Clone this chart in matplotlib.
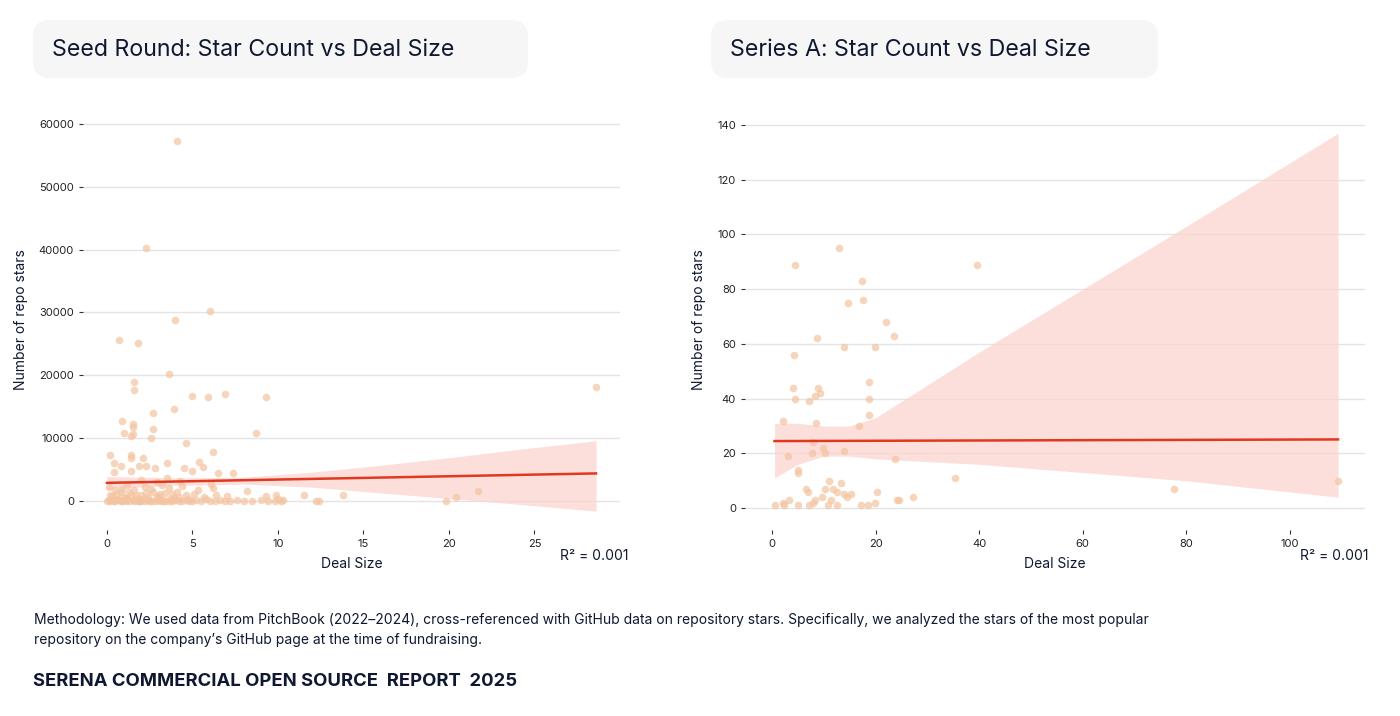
import matplotlib
matplotlib.use("Agg")
import matplotlib.pyplot as plt
from matplotlib.patches import FancyBboxPatch

plt.rcParams['font.family'] = ['Inter', 'DejaVu Sans']

# ---------- Seed round data ----------
seed_x = [4.1,2.3,6.0,4.0,0.7,1.8,3.6,1.6,1.6,5.0,5.9,6.9,9.3,28.6,3.9,2.7,0.9,1.5,1.5,2.7,1.0,1.5,1.4,2.6,8.7,4.6,
          1.4,0.2,1.4,2.1,6.2,0.4,3.5,5.4,0.8,0.4,1.4,1.9,2.3,2.8,4.5,5.0,5.6,6.5,7.4,4.3,2.9,6.2,
          8.2,9.9,11.5,12.2,12.4,13.8,19.8,20.4,21.7,10.3,9.3,10.0,
          0.0,0.1,0.2,0.3,0.4,0.5,0.6,0.7,0.8,0.9,1.0,1.1,1.2,1.3,1.5,1.6,1.7,1.8,1.9,2.0,2.1,2.2,2.4,2.5,2.6,
          2.8,3.0,3.1,3.2,3.3,3.4,3.6,3.7,3.8,4.0,4.2,4.4,4.6,4.8,5.0,5.2,5.5,5.8,6.0,6.3,6.6,6.9,7.2,7.6,8.0,
          8.5,9.0,9.4,9.8,10.2,0.3,0.6,1.0,1.3,1.7,2.0,2.4,2.7,3.0,3.4,3.8,4.2,4.6,5.1,5.7,6.4,7.0,0.1,0.5,0.9,
          1.2,1.6,2.2,2.6,3.2,3.6,4.4,5.3,6.1,1.1,1.9,2.9,3.9,4.8,0.2,0.8,1.4,2.3,3.1,4.1,2.0,3.5]
seed_y = [57200,40300,30200,28800,25600,25100,20200,18900,17600,16700,16500,17100,16600,18200,14700,14000,12700,12300,11800,11500,10800,10700,10300,10000,10800,9300,
          7400,7400,6900,6900,7800,6100,6100,6200,5600,4600,4800,5600,5600,5200,5200,4800,5400,4500,4500,3200,3000,2100,
          1600,1000,900,0,0,900,0,600,1600,200,800,300,
          0,100,0,200,50,0,300,100,0,0,150,0,400,0,100,0,200,0,50,0,300,0,100,0,0,
          0,200,0,100,0,50,0,300,0,100,0,0,200,0,0,100,0,300,0,0,100,0,0,200,0,
          0,100,0,0,0,800,1200,600,1400,900,1000,700,1500,800,1300,1100,600,900,1200,700,1000,800,2200,1800,2000,
          2500,1700,2300,1900,2600,2100,2400,1800,2700,500,400,600,500,400,1000,1500,900,1300,1100,1400,3300,3600]

seed_line_x = [0.0, 28.6]
seed_line_y = [2900, 4400]
seed_band_x = [0, 4, 8, 12, 16, 20, 24, 28.6]
seed_band_lo = [2000, 2500, 2700, 2200, 1300, 400, -500, -1600]
seed_band_hi = [3900, 3700, 3800, 4600, 5700, 6900, 8200, 9600]

# ---------- Series A data ----------
a_x = [4.5,12.9,39.6,17.3,17.6,14.6,22,23.6,8.7,14,19.9,4.3,18.7,4.1,8.8,9.3,8.3,4.5,18.8,7.2,18.8,2.2,8.5,16.8,8,9.8,14,7.7,10.2,3.1,
       23.8,5,5,35.3,11,109.3,13.3,6.6,10.2,11.8,77.6,7,12.5,20.2,15.2,14,14.4,9.6,27.2,3.3,8.4,11.4,24.2,24.5,2.2,7.9,19.9,0.6,2.4,5.1,7.2,10.8,12.5,17.2,18.5]
a_y = [89,95,89,83,76,75,68,63,62,59,59,56,46,44,44,42,41,40,40,39,34,32,31,30,24,22,21,20,20,19,
       18,14,13,11,10,10,9,7,7,7,7,6,6,6,5,5,4,4,4,3,3,3,3,3,2,2,2,1,1,1,1,1,1,1,1]

a_line_x = [0.5, 109.3]
a_line_y = [24.5, 25.1]
a_band_x = [0.5, 5, 10, 15, 20, 30, 40, 60, 80, 109.3]
a_band_lo = [11, 16, 19, 19, 18, 17, 16, 13, 10, 4]
a_band_hi = [31, 31, 30, 30, 33, 45, 57, 80, 103, 137]

PT = '#f4c3a0'
LINE = '#e0391f'
BAND = '#fbd5cf'
TXT = '#0f1830'

fig = plt.figure(figsize=(14, 7.16), dpi=100)

def panel(rect, x, y, lx, ly, bx, blo, bhi, xlim, ylim, yticks, xticks):
    ax = fig.add_axes(rect)
    ax.fill_between(bx, blo, bhi, color=BAND, alpha=0.75, lw=0, zorder=1)
    ax.scatter(x, y, s=30, color=PT, alpha=0.7, lw=0, zorder=2)
    ax.plot(lx, ly, color=LINE, lw=1.8, zorder=3)
    ax.set_xlim(*xlim); ax.set_ylim(*ylim)
    ax.set_yticks(yticks); ax.set_xticks(xticks)
    for s in ax.spines.values():
        s.set_visible(False)
    ax.grid(axis='y', color='#e4e4e4', lw=1)
    ax.set_axisbelow(True)
    ax.tick_params(labelsize=8, length=3, width=0.8, color='#333333', labelcolor='#222222')
    ax.set_xlabel('Deal Size', fontsize=10, color=TXT, labelpad=6)
    ax.set_ylabel('Number of repo stars', fontsize=10, color=TXT, labelpad=8)
    return ax

W, H = 1400, 716
def r(l, t, rr, b):
    return [l / W, 1 - b / H, (rr - l) / W, (b - t) / H]

panel(r(83, 110, 620, 530), seed_x, seed_y, seed_line_x, seed_line_y, seed_band_x, seed_band_lo, seed_band_hi,
      (-1.4, 30.0), (-4600, 62200), [0, 10000, 20000, 30000, 40000, 50000, 60000], [0, 5, 10, 15, 20, 25])
panel(r(745, 110, 1365, 530), a_x, a_y, a_line_x, a_line_y, a_band_x, a_band_lo, a_band_hi,
      (-5.2, 114.5), (-8, 145.5), [0, 20, 40, 60, 80, 100, 120, 140], [0, 20, 40, 60, 80, 100])

for (l, rr, t) in [(33, 528, 'Seed Round: Star Count vs Deal Size'), (711, 1158, 'Series A: Star Count vs Deal Size')]:
    box = FancyBboxPatch((l / W, 1 - 78 / H), (rr - l) / W, 58 / H, boxstyle='round,pad=0,rounding_size=0.012',
                         transform=fig.transFigure, fc='#f6f6f7', ec='none', mutation_aspect=W / H)
    fig.patches.append(box)
    fig.text((l + 19) / W, 1 - 50 / H, t, fontsize=16.7, color=TXT, va='center')

fig.text(628 / W, 1 - 556 / H, 'R² = 0.001', fontsize=10, color=TXT, ha='right', va='center')
fig.text(1369 / W, 1 - 556 / H, 'R² = 0.001', fontsize=10, color=TXT, ha='right', va='center')

fig.text(34 / W, 1 - 630 / H,
         'Methodology: We used data from PitchBook (2022–2024), cross-referenced with GitHub data on repository stars. Specifically, we analyzed the stars of the most popular\nrepository on the company’s GitHub page at the time of fundraising.',
         fontsize=10, color=TXT, va='center', linespacing=1.5)
fig.text(33 / W, 1 - 681 / H, 'SERENA COMMERCIAL OPEN SOURCE  REPORT  2025', fontsize=13.3, fontweight='bold',
         color=TXT, va='center')

fig.savefig('out.png', dpi=100, facecolor='white')
